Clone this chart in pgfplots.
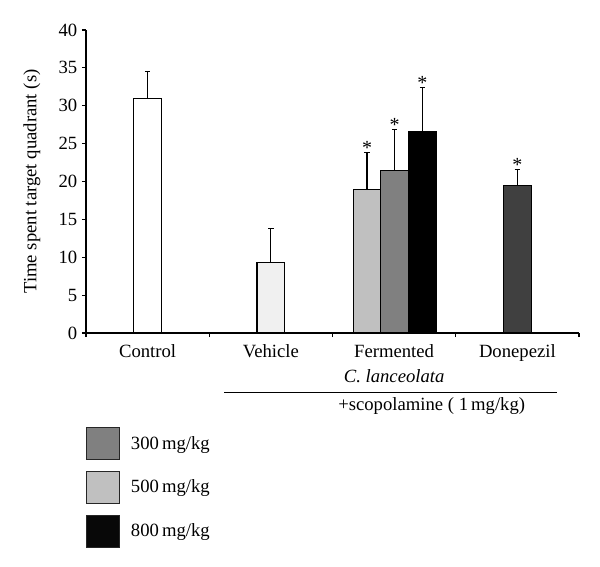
\documentclass[border=0pt]{standalone}
\usepackage{fontspec}
\setmainfont{Liberation Serif}
\usepackage{pgfplots}
\pgfplotsset{compat=1.18}
\definecolor{vehc}{HTML}{F0F0F0}
\definecolor{lgc}{HTML}{C0C0C0}
\definecolor{mgc}{HTML}{808080}
\definecolor{donc}{HTML}{404040}
\definecolor{blk}{HTML}{080808}
\newcommand{\chf}{\fontsize{14}{18}\selectfont}
\begin{document}
\begin{tikzpicture}[font=\chf]
\useasboundingbox (-64.5pt,-175.5pt) rectangle (385.5pt,249.75pt);
\begin{axis}[
  at={(0,0)}, anchor=south west, scale only axis,
  width=369.75pt, height=227.25pt,
  xmin=0, xmax=4, ymin=0, ymax=40,
  axis x line*=bottom, axis y line*=left,
  axis line style={-, line width=0.8pt},
  xtick={0,1,2,3,4}, xticklabels={},
  ytick={0,5,...,40},
  tick align=outside, major tick length=3pt,
  tick style={black, line width=0.8pt},
  extra x ticks={0.5,1.5,2.5,3.5},
  extra x tick labels={Control,Vehicle,{Fermented\\[1pt]\textit{C. lanceolata}},Donepezil},
  extra x tick style={major tick length=0pt, xticklabel style={align=center, anchor=north, text depth=0pt, yshift=-5pt}},
  xticklabel style={font=\chf},
  yticklabel style={font=\chf},
  /pgf/number format/assume math mode=true,
  ylabel={Time spent target quadrant (s)},
  ylabel style={at={(axis description cs:-0.1095,0.5)}, anchor=center, font=\chf},
  clip=false,
  bar width=0.225,
  legend style={at={(axis description cs:0,-0.31)}, anchor=north west, draw=none, fill=none,
    inner sep=0pt, row sep=8pt, column sep=8pt, nodes={inner sep=0pt}, cells={anchor=west},
    font=\chf},
  legend image code/.code={\draw[#1, draw=black!85, line width=0.8pt] (0pt,-12pt) rectangle (24.75pt,12pt);},
  every axis plot/.append style={line width=0.8pt},
  error bars/error bar style={line width=0.8pt, black},
  error bars/error mark options={rotate=90, mark size=2pt, line width=0.8pt, black, solid},
]
\addplot[ybar, bar shift=0pt, fill=white, draw=black, forget plot,
  error bars/.cd, y dir=plus, y explicit]
  coordinates {(0.5,31.0) +- (0,3.5)};
\addplot[ybar, bar shift=0pt, fill=vehc, draw=black, forget plot,
  error bars/.cd, y dir=plus, y explicit]
  coordinates {(1.5,9.3) +- (0,4.5)};
\addplot[ybar, bar shift=0pt, fill=lgc, draw=black, forget plot,
  error bars/.cd, y dir=plus, y explicit]
  coordinates {(2.28,19.0) +- (0,4.8)};
\addplot[ybar, bar shift=0pt, fill=mgc, draw=black, forget plot,
  error bars/.cd, y dir=plus, y explicit]
  coordinates {(2.505,21.4) +- (0,5.5)};
\addplot[ybar, bar shift=0pt, fill=black, draw=black, forget plot,
  error bars/.cd, y dir=plus, y explicit]
  coordinates {(2.73,26.6) +- (0,5.8)};
\addplot[ybar, bar shift=0pt, fill=donc, draw=black, forget plot,
  error bars/.cd, y dir=plus, y explicit]
  coordinates {(3.5,19.5) +- (0,2.1)};
% significance stars
\addplot[draw=none, mark=none, forget plot, nodes near coords, point meta=explicit symbolic,
  every node near coord/.style={anchor=south, inner sep=0pt, yshift=-2pt, font=\fontsize{15}{15}\selectfont}]
  coordinates {(2.28,23.8)[*] (2.505,26.9)[*] (2.73,32.4)[*] (3.5,21.6)[*]};
\addlegendimage{fill=mgc}
\addlegendentry{300\,mg/kg}
\addlegendimage{fill=lgc}
\addlegendentry{500\,mg/kg}
\addlegendimage{fill=blk}
\addlegendentry{800\,mg/kg}
\draw[line width=0.6pt] (axis cs:1.122,-7.78) -- (axis cs:3.821,-7.78);
\node[anchor=center] at (axis cs:2.805,-9.6) {+scopolamine ( 1\,mg/kg)};
\end{axis}
\end{tikzpicture}
\end{document}
